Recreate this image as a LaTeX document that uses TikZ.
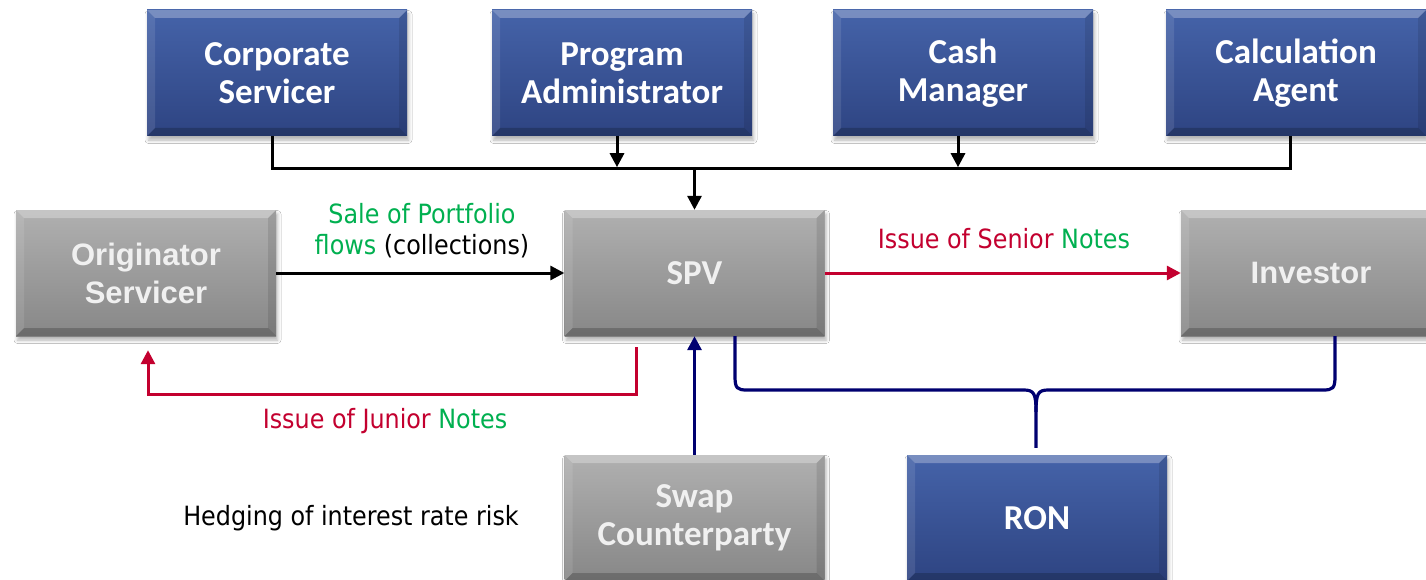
\documentclass[tikz,border=0pt]{standalone}
\usepackage{fontspec}
\setmainfont{Carlito}
\newfontfamily\arialf{Liberation Sans}
\newfontfamily\lblfont{DejaVu Sans Condensed}
\usetikzlibrary{calc,arrows.meta,shadows.blur}
\definecolor{grn}{HTML}{00B050}
\definecolor{rd}{HTML}{C3002F}
\definecolor{nv}{HTML}{000070}
\definecolor{bluetop}{HTML}{4563A9}
\definecolor{bluebot}{HTML}{2E4482}
\definecolor{graytop}{HTML}{B0B0B0}
\definecolor{graybot}{HTML}{878787}
\tikzset{
  bevel/.style={path picture={
    \fill[white,opacity=.28] (path picture bounding box.north west) -- (path picture bounding box.north east)
      -- ($(path picture bounding box.north east)+(-8,8)$) -- ($(path picture bounding box.north west)+(8,8)$) -- cycle;
    \fill[white,opacity=.10] (path picture bounding box.north west) -- ($(path picture bounding box.north west)+(8,8)$)
      -- ($(path picture bounding box.south west)+(8,-8)$) -- (path picture bounding box.south west) -- cycle;
    \fill[black,opacity=.10] (path picture bounding box.north east) -- ($(path picture bounding box.north east)+(-8,8)$)
      -- ($(path picture bounding box.south east)+(-8,-8)$) -- (path picture bounding box.south east) -- cycle;
    \fill[black,opacity=.20] (path picture bounding box.south west) -- ($(path picture bounding box.south west)+(8,-8)$)
      -- ($(path picture bounding box.south east)+(-8,-8)$) -- (path picture bounding box.south east) -- cycle;
  }},
  boxbase/.style={rectangle, minimum width=260pt, minimum height=126pt, inner sep=0pt, align=center,
    blur shadow={shadow xshift=1.5pt, shadow yshift=-4pt, shadow blur radius=3.5pt, shadow opacity=30}, bevel},
  bluebox/.style={boxbase, top color=bluetop, bottom color=bluebot, text=white,
    font=\fontsize{35}{38}\selectfont\bfseries},
  graybox/.style={boxbase, top color=graytop, bottom color=graybot, text=white!94!black,
    font=\fontsize{35}{38}\selectfont\bfseries},
  grayarial/.style={graybox, font=\arialf\fontsize{31}{38}\selectfont\bfseries},
  lbl/.style={inner sep=0pt, align=center, font=\lblfont\fontsize{26.5}{31}\selectfont},
  tip/.style={-{Triangle[length=14pt,width=14pt]}},
  blk/.style={line width=3pt, black},
  redl/.style={line width=3pt, rd},
  navyl/.style={line width=3.2pt, nv},
}
\begin{document}
\begin{tikzpicture}[x=1pt,y=-1pt]
\clip (0,0) rectangle (1426,580);
\fill[white] (0,0) rectangle (1426,580);
% boxes
\node[bluebox] (cs) at (277,73) {Corporate\\Servicer};
\node[bluebox] (pa) at (622,73) {Program\\Administrator};
\node[bluebox] (cm) at (963,73) {Cash\\Manager};
\node[bluebox] (ca) at (1296,73) {Calculation\\Agent};
\node[grayarial] (os) at (146,273) {Originator\\Servicer};
\node[graybox] (spv) at (694.5,273) {SPV};
\node[grayarial] (inv) at (1311,273) {Investor};
\node[graybox] (swap) at (694.5,518) {Swap\\Counterparty};
\node[bluebox] (ron) at (1037,518) {RON};
% top bus
\draw[blk] ($(cs.south)+(-5,0)$) -- ++(0,32) -| ($(ca.south)+(-6,0)$);
\draw[blk,tip] ($(pa.south)+(-5,0)$) -- ++(0,31);
\draw[blk,tip] ($(cm.south)+(-5,0)$) -- ++(0,31);
\coordinate (busm) at ($(spv.north)+(0,-42)$);
\draw[blk,tip] (busm) -- (spv.north);
% originator -> spv
\draw[blk,tip] (os.east) -- (spv.west);
\node[lbl] (lsale) at (422,231) {\textcolor{grn}{Sale of Portfolio}\\\textcolor{grn}{flows} (collections)};
% spv -> investor
\draw[redl,tip] (spv.east) -- (inv.west);
\node[lbl,text=rd] (lsen) at (1004,239) {Issue of Senior \textcolor{grn}{Notes}};
% junior notes
\coordinate (jst) at ($(spv.south)+(-58,11)$);
\coordinate (jen) at ($(os.south)+(2,14)$);
\draw[redl,tip] (jst) -- ++(0,47) -| (jen);
\node[lbl,text=rd] (ljun) at (385,421) {Issue of Junior \textcolor{grn}{Notes}};
% swap -> spv
\draw[navyl,tip] (swap.north) -- (spv.south);
\node[lbl] (lhedge) at (351,518) {Hedging of interest rate risk};
% brace
\coordinate (bl) at ($(spv.south)+(40.5,0)$);
\coordinate (br) at ($(inv.south)+(24,0)$);
\coordinate (bc) at ($(ron.north)+(-1,-7)$);
\draw[navyl,line join=round]
  (bl) -- ++(0,40) .. controls ++(0,12) and ++(-10,0) .. ($(bl |- 0,390)+(12,0)$)
  -- ($(bc |- 0,390)+(-12,0)$) .. controls ++(10,0) and ++(0,-18) .. ($(bc)+(0,-36)$) -- (bc);
\draw[navyl,line join=round]
  (br) -- ++(0,40) .. controls ++(0,12) and ++(10,0) .. ($(br |- 0,390)+(-12,0)$)
  -- ($(bc |- 0,390)+(12,0)$) .. controls ++(-10,0) and ++(0,-18) .. ($(bc)+(0,-36)$);
\end{tikzpicture}
\end{document}
